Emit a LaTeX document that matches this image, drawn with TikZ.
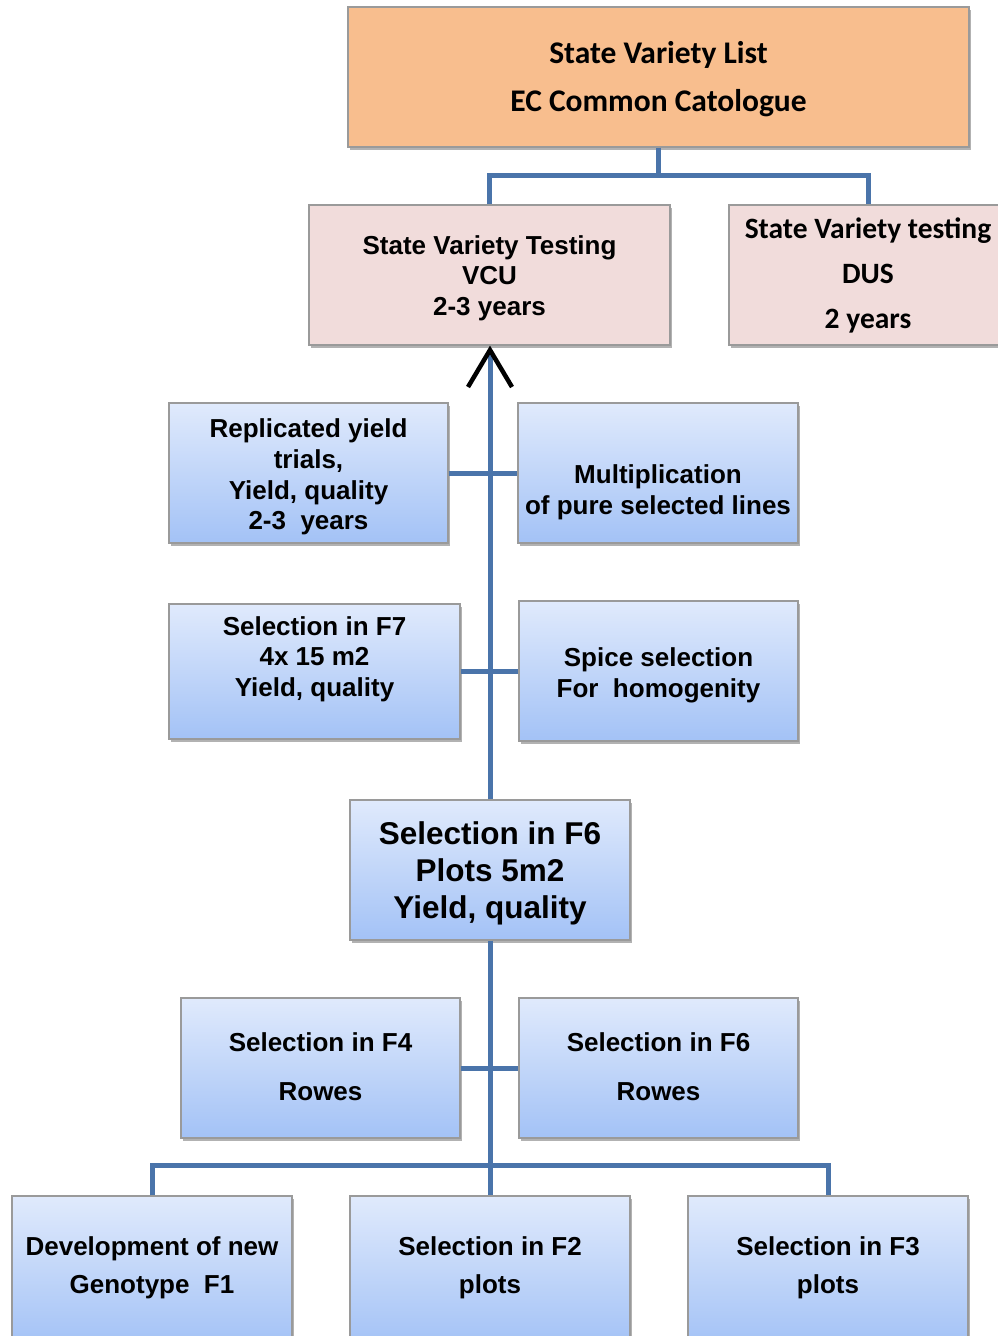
\documentclass[tikz,border=0pt]{standalone}
\usepackage{fontspec}
\setmainfont{Liberation Sans}
\newfontfamily\calfont{Carlito}
\usetikzlibrary{arrows.meta,shadows}
\definecolor{linkblue}{HTML}{4A74AA}
\definecolor{peach}{HTML}{F8BE8E}
\definecolor{pinkbox}{HTML}{F1DCDB}
\definecolor{gtop}{HTML}{E0EAFC}
\definecolor{gbot}{HTML}{A3C2F6}
\definecolor{edgegray}{HTML}{9A9A9A}
\begin{document}
\begin{tikzpicture}[x=1pt,y=-1pt,
  boxbase/.style={draw=edgegray, line width=1.2pt, inner sep=0pt,
    drop shadow={shadow xshift=2pt, shadow yshift=-3pt, opacity=0.3, fill=black}},
  bluebox/.style={boxbase, top color=gtop, bottom color=gbot},
  peachbox/.style={boxbase, fill=peach},
  pbox/.style={boxbase, fill=pinkbox},
  txt/.style={align=center, inner sep=0pt, font=\fontsize{26}{30.7}\selectfont\bfseries},
  bigtxt/.style={align=center, inner sep=0pt, font=\fontsize{31.5}{37}\selectfont\bfseries},
  caltxt/.style={align=center, inner sep=0pt, font=\calfont\fontsize{31.5}{48}\selectfont\bfseries},
  link/.style={draw=linkblue, line width=5pt}
]
\useasboundingbox (0,0) rectangle (998,1336);

% boxes
\node[peachbox, minimum width=621, minimum height=140] (top) at (658.5,77) {};
\node[caltxt] (topT) at (658.5,79) {State Variety List\\EC Common Catologue};

\node[pbox, minimum width=361, minimum height=140] (vcu) at (489.5,275) {};
\node[txt] (vcuT) at (489.5,278) {State Variety Testing\\VCU\\2-3 years};

\node[pbox, minimum width=278, minimum height=140] (dus) at (868,275) {};
\node[caltxt, font=\calfont\fontsize{29.5}{45}\selectfont\bfseries] (dusT) at (868,275) {State Variety testing\\DUS\\2 years};

\node[bluebox, minimum width=279, minimum height=140] (rep) at (308.5,473) {};
\node[txt] (repT) at (308.5,477) {Replicated yield\\trials,\\Yield, quality\\2-3\ \ years};

\node[bluebox, minimum width=280, minimum height=140] (mult) at (658,473) {};
\node[txt] (multT) at (658,492) {Multiplication\\of pure selected lines};

\node[bluebox, minimum width=291, minimum height=135] (f7) at (314.5,671.5) {};
\node[txt] (f7T) at (314.5,659) {Selection in F7\\4x 15 m2\\Yield, quality};

\node[bluebox, minimum width=279, minimum height=140] (spice) at (658.5,671) {};
\node[txt] (spiceT) at (658.5,675) {Spice selection\\For\ \ homogenity};

\node[bluebox, minimum width=280, minimum height=140] (f6c) at (490,870) {};
\node[bigtxt] (f6cT) at (490,873) {Selection in F6\\Plots 5m2\\Yield, quality};

\node[bluebox, minimum width=279, minimum height=140] (f4) at (320.5,1068) {};
\node[txt, font=\fontsize{26}{49}\selectfont\bfseries] (f4T) at (320.5,1067) {Selection in F4\\Rowes};

\node[bluebox, minimum width=279, minimum height=140] (f6r) at (658.5,1068) {};
\node[txt, font=\fontsize{26}{49}\selectfont\bfseries] (f6rT) at (658.5,1067) {Selection in F6\\Rowes};

\node[bluebox, minimum width=280, minimum height=150] (f1) at (152,1271) {};
\node[txt, font=\fontsize{26}{38}\selectfont\bfseries] (f1T) at (152,1268) {Development of new\\Genotype\ \ F1};

\node[bluebox, minimum width=280, minimum height=150] (f2) at (490,1271) {};
\node[txt, font=\fontsize{26}{38}\selectfont\bfseries] (f2T) at (490,1268) {Selection in F2\\plots};

\node[bluebox, minimum width=280, minimum height=150] (f3) at (828,1271) {};
\node[txt, font=\fontsize{26}{38}\selectfont\bfseries] (f3T) at (828,1268) {Selection in F3\\plots};

% connectors
\path (top.south) ++(0,28) coordinate (tj);
\draw[link] (top.south) -- (tj);
\draw[link] (vcu.north) |- (tj) -| (dus.north);

\draw[link, -{Straight Barb[length=37pt, width=44pt, line width=4.5pt, color=black]}]
  (f6c.north) -- (f6c.north |- vcu.south);
\draw[link] (rep.east) -- (mult.west);
\draw[link] (f7.east) -- (f7.east -| spice.west);
\draw[link] (f6c.south) -- (f2.north);
\draw[link] (f4.east) -- (f6r.west);
\draw[link] (f1.north) -- ++(0,-30) -| (f3.north);
\end{tikzpicture}
\end{document}
